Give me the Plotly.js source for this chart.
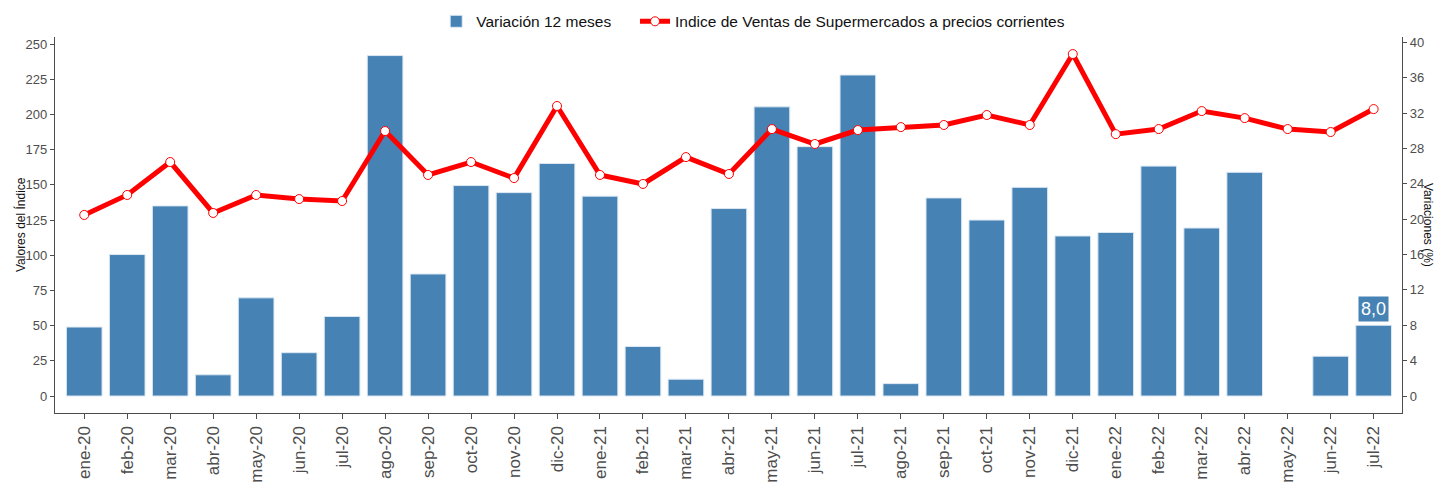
<!DOCTYPE html>
<html>
<head>
<meta charset="utf-8">
<script src="https://cdn.plot.ly/plotly-3.0.1.min.js"></script>
<style>html,body{margin:0;padding:0;background:#fff;}#chart{width:1438px;height:483px;}</style>
</head>
<body>
<div id="chart"></div>
<script>
const months = ["ene-20","feb-20","mar-20","abr-20","may-20","jun-20","jul-20","ago-20","sep-20","oct-20","nov-20","dic-20",
  "ene-21","feb-21","mar-21","abr-21","may-21","jun-21","jul-21","ago-21","sep-21","oct-21","nov-21","dic-21",
  "ene-22","feb-22","mar-22","abr-22","may-22","jun-22","jul-22"];
const variacion12 = [7.8,16.0,21.5,2.4,11.1,4.9,9.0,38.5,13.8,23.8,23.0,26.3,
  22.6,5.6,1.9,21.2,32.7,28.2,36.3,1.4,22.4,19.9,23.6,18.1,
  18.5,26.0,19.0,25.3,null,4.5,8.0];
const indiceVentas = [128.6,142.8,166.2,130.0,142.8,139.9,138.5,188.2,157.0,166.2,154.8,206.0,
  157.0,150.6,169.7,157.7,189.6,179.0,188.9,191.0,192.5,199.6,192.5,242.9,
  186.0,189.6,202.4,197.4,189.6,187.5,203.8];
const lastLabel = "8,0";

const font = "Liberation Sans, Arial, sans-serif";
const grey = "#4d4d4d";

const traces = [
  {type:"bar", name:"Variación 12 meses", x:months, y:variacion12, yaxis:"y", legend:"legend",
   marker:{color:"#4682B4", line:{color:"#dce8f3", width:1}}, width:0.83},
  {type:"scatter", mode:"lines+markers", name:"Indice de Ventas de Supermercados a precios corrientes",
   x:months, y:indiceVentas, yaxis:"y2", legend:"legend2",
   line:{color:"#ff0000", width:5},
   marker:{color:"#ffffff", size:9, line:{color:"#ff0000", width:1}}}
];

const legendFont = {size:15.5, color:"#111"};
const layout = {
  width:1438, height:483,
  margin:{l:55, r:36, t:37, b:70, autoexpand:false},
  paper_bgcolor:"#fff", plot_bgcolor:"#fff",
  font:{family:font, color:grey},
  showlegend:true,
  legend:{orientation:"h", x:0.283, xanchor:"left", yref:"container", y:0.955, yanchor:"middle",
    font:legendFont, itemwidth:30},
  legend2:{orientation:"h", x:0.4306, xanchor:"left", yref:"container", y:0.955, yanchor:"middle",
    font:legendFont, itemwidth:30},
  xaxis:{type:"category", range:[-0.68,30.66], showline:true, linecolor:grey, linewidth:1.2,
    ticks:"outside", ticklen:5, tickcolor:grey, tickangle:-90,
    tickfont:{size:17, color:grey, family:font}, showgrid:false, zeroline:false, fixedrange:true},
  yaxis:{side:"right", range:[-1.92,40.6], tickvals:[0,4,8,12,16,20,24,28,32,36,40],
    showline:true, linecolor:grey, linewidth:1.2, ticks:"outside", ticklen:4, tickcolor:grey,
    tickfont:{size:13, color:grey}, showgrid:false, zeroline:false},
  yaxis2:{side:"left", overlaying:"y", range:[-12.07,255], tickvals:[0,25,50,75,100,125,150,175,200,225,250],
    showline:true, linecolor:grey, linewidth:1.2, ticks:"outside", ticklen:4, tickcolor:grey,
    tickfont:{size:13, color:grey}, showgrid:false, zeroline:false},
  annotations:[
    {x:months[months.length-1], y:variacion12[variacion12.length-1], xref:"x", yref:"y",
     text:lastLabel, showarrow:false, yanchor:"bottom", yshift:3,
     font:{size:18, color:"#fff"}, bgcolor:"#4682B4", borderpad:2},
    {x:0, xref:"paper", xanchor:"center", xshift:-35, y:0.5, yref:"paper", yanchor:"middle",
     text:"Valores del Índice", textangle:-90, showarrow:false, font:{size:12, color:"#111"}},
    {x:1, xref:"paper", xanchor:"center", xshift:26, y:0.5, yref:"paper", yanchor:"middle",
     text:"Variaciones (%)", textangle:90, showarrow:false, font:{size:12, color:"#111"}}
  ]
};

Plotly.newPlot("chart", traces, layout, {displayModeBar:false, staticPlot:true});
</script>
</body>
</html>
